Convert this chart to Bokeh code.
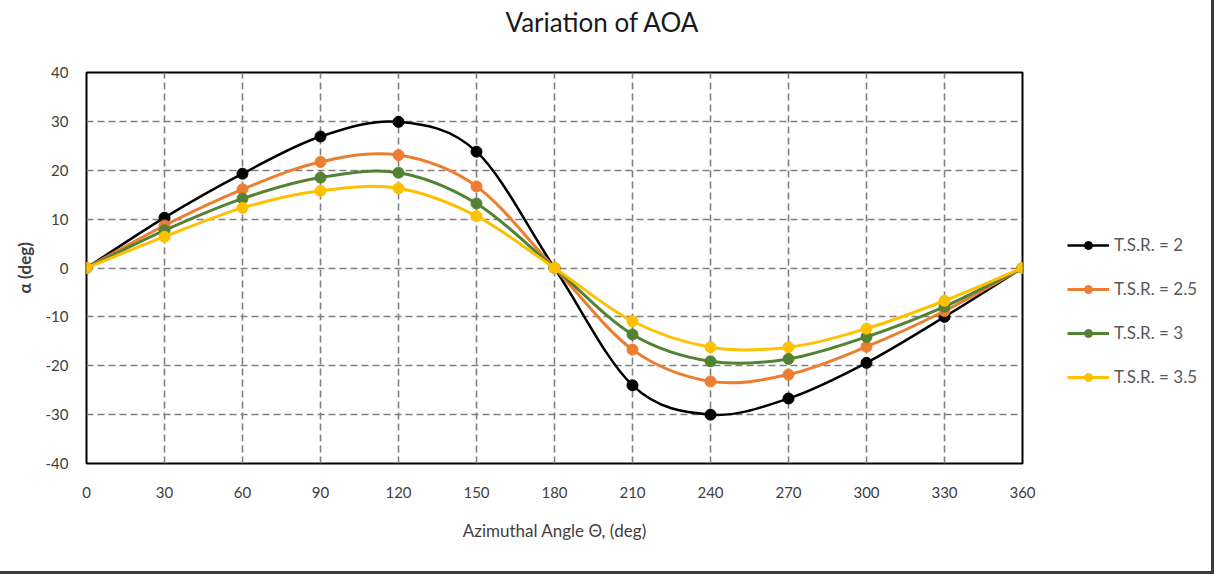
import numpy as np
from bokeh.plotting import figure
from bokeh.models import FixedTicker, Legend, LegendItem, ColumnDataSource, Title
from bokeh.embed import file_html
from bokeh.resources import INLINE

# ---------------- data ----------------
theta = [0, 30, 60, 90, 120, 150, 180, 210, 240, 270, 300, 330, 360]
alpha_tsr_2 = [0, 10.3, 19.3, 26.9, 29.9, 23.8, 0, -24.0, -30.0, -26.7, -19.4, -10.0, 0]
alpha_tsr_2_5 = [0, 8.7, 16.1, 21.7, 23.1, 16.7, 0, -16.7, -23.2, -21.8, -16.1, -8.8, 0]
alpha_tsr_3 = [0, 7.7, 14.2, 18.5, 19.5, 13.2, 0, -13.6, -19.1, -18.6, -14.1, -7.9, 0]
alpha_tsr_3_5 = [0, 6.4, 12.3, 15.8, 16.3, 10.6, 0, -10.9, -16.2, -16.2, -12.4, -6.7, 0]
series_labels = ["T.S.R. = 2", "T.S.R. = 2.5", "T.S.R. = 3", "T.S.R. = 3.5"]
x_ticks = [0, 30, 60, 90, 120, 150, 180, 210, 240, 270, 300, 330, 360]
y_ticks = [-40, -30, -20, -10, 0, 10, 20, 30, 40]

series = [alpha_tsr_2, alpha_tsr_2_5, alpha_tsr_3, alpha_tsr_3_5]
colors = ["#000000", "#ED7D31", "#548235", "#FFC000"]
widths = [2.5, 3, 3, 3]

FONT = "Lato"

p = figure(width=1214, height=574, output_backend="svg", toolbar_location=None,
           x_range=(0, 360), y_range=(-40, 40),
           min_border_left=86, min_border_right=192, min_border_top=72, min_border_bottom=111)
p.frame_width = 936
p.frame_height = 391
p.styles = {"width": "1214px", "height": "574px", "overflow": "hidden",
            "border-right": "3px solid #3a3a3a", "border-bottom": "3px solid #3a3a3a"}

# main title (outermost in the "above" panel)
p.title.text = "Variation of AOA"
p.title.align = "left"
p.title.offset = 419
p.title.standoff = 0
p.title.text_font = FONT
p.title.text_font_size = "26px"
p.title.text_font_style = "normal"
p.title.text_color = "#1a1a1a"
# blank spacer title between the frame and the main title
p.add_layout(Title(text=" ", text_font=FONT, text_font_size="26px", standoff=1), "above")

p.outline_line_color = "#000000"
p.outline_line_width = 2

for ax in (p.xaxis[0], p.yaxis[0]):
    ax.axis_line_color = None
    ax.major_tick_line_color = None
    ax.minor_tick_line_color = None
    ax.major_tick_in = 0
    ax.major_tick_out = 0
    ax.minor_tick_in = 0
    ax.minor_tick_out = 0
    ax.major_label_text_font = FONT
    ax.major_label_text_font_size = "15px"
    ax.major_label_text_color = "#404040"
    ax.axis_label_text_font = FONT

p.xaxis.ticker = FixedTicker(ticks=x_ticks)
p.yaxis.ticker = FixedTicker(ticks=y_ticks)
p.yaxis.major_label_overrides = {v: str(v) for v in y_ticks}
p.xaxis.major_label_standoff = 23
p.yaxis.major_label_standoff = 18

p.xaxis.axis_label = "Azimuthal Angle \u0398, (deg)"
p.xaxis.axis_label_text_font_size = "17px"
p.xaxis.axis_label_text_font_style = "normal"
p.xaxis.axis_label_text_color = "#404040"
p.xaxis.axis_label_standoff = 19

p.yaxis.axis_label = "\u03b1 (deg)"
p.yaxis.axis_label_text_font_size = "17px"
p.yaxis.axis_label_text_font_style = "bold"
p.yaxis.axis_label_text_color = "#404040"
p.yaxis.axis_label_standoff = 8

for g in (p.xgrid[0], p.ygrid[0]):
    g.grid_line_color = "#808080"
    g.grid_line_dash = "7 4"
    g.grid_line_width = 1.6
p.xgrid.ticker = FixedTicker(ticks=x_ticks)
p.ygrid.ticker = FixedTicker(ticks=y_ticks)


def smooth_segments(xs, ys):
    """Cubic Bezier control points (Catmull-Rom style, like spreadsheet smoothed lines)."""
    xs = np.asarray(xs, float)
    ys = np.asarray(ys, float)
    n = len(xs)
    xp = np.concatenate([[xs[0]], xs, [xs[-1]]])
    yp = np.concatenate([[ys[0]], ys, [ys[-1]]])
    d = dict(x0=[], y0=[], x1=[], y1=[], cx0=[], cy0=[], cx1=[], cy1=[])
    for i in range(n - 1):
        j = i + 1
        d["x0"].append(xp[j]); d["y0"].append(yp[j])
        d["x1"].append(xp[j + 1]); d["y1"].append(yp[j + 1])
        d["cx0"].append(xp[j] + (xp[j + 1] - xp[j - 1]) / 6)
        d["cy0"].append(yp[j] + (yp[j + 1] - yp[j - 1]) / 6)
        d["cx1"].append(xp[j + 1] - (xp[j + 2] - xp[j]) / 6)
        d["cy1"].append(yp[j + 1] - (yp[j + 2] - yp[j]) / 6)
    return ColumnDataSource(d)


items = []
for vals, col, w, lab in zip(series, colors, widths, series_labels):
    p.bezier(x0="x0", y0="y0", x1="x1", y1="y1", cx0="cx0", cy0="cy0",
             cx1="cx1", cy1="cy1", source=smooth_segments(theta, vals),
             line_color=col, line_width=w)
    sc = p.scatter(theta, vals, size=11, marker="circle", fill_color=col, line_color=col)
    # single-point line: draws nothing in the plot, provides the legend's line swatch
    proxy = p.line(x=theta[:1], y=vals[:1], line_color=col, line_width=w)
    items.append(LegendItem(label=lab, renderers=[proxy, sc]))

legend = Legend(items=items, location=(45, 76))
legend.border_line_color = None
legend.background_fill_alpha = 0
legend.label_text_font = FONT
legend.label_text_font_size = "17px"
legend.label_text_color = "#595959"
legend.glyph_width = 42
legend.glyph_height = 20
legend.label_height = 20
legend.spacing = 23
legend.padding = 0
legend.margin = 0
legend.label_standoff = 5
p.add_layout(legend, "right")

open("out.html", "w").write(file_html(p, INLINE))
